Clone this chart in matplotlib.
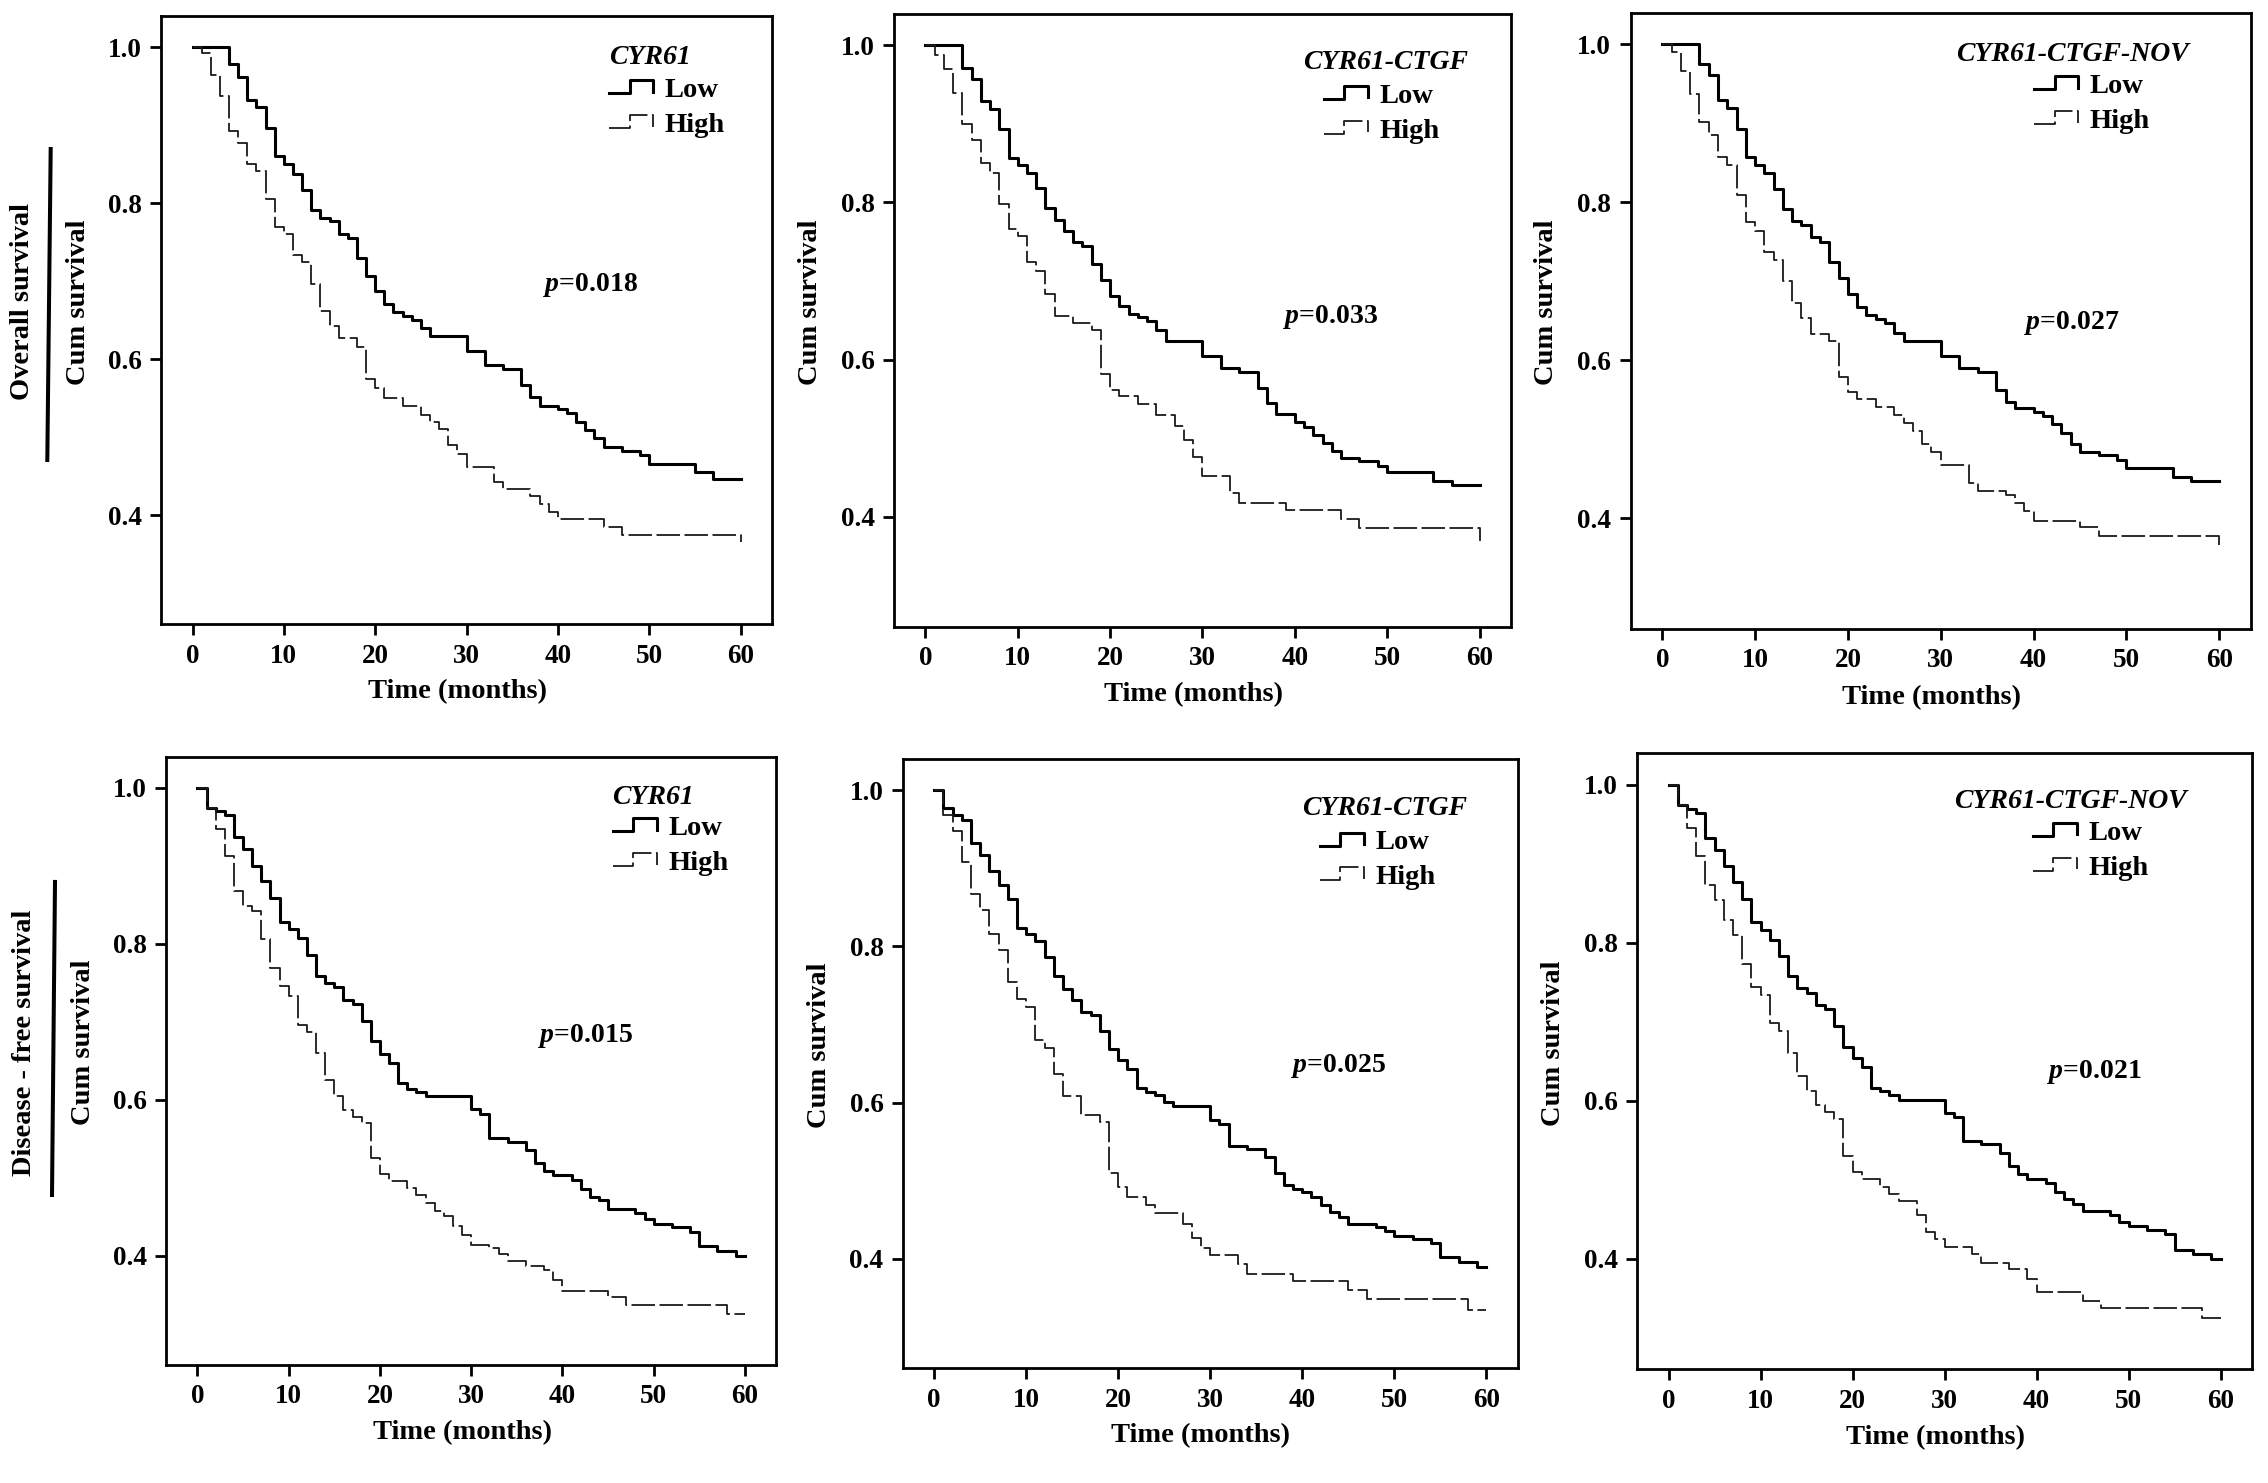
import matplotlib
matplotlib.use('Agg')
import matplotlib.pyplot as plt
from matplotlib.lines import Line2D
from matplotlib.legend_handler import HandlerBase

# ---- data (months, cum survival) ----
# overall survival, CYR61
os1_low_t = [0, 4, 5, 6, 7, 8, 9, 10, 11, 12, 13, 14, 15, 16, 17, 18, 19, 20, 21, 22, 23, 24, 25, 26,
             30, 32, 34, 36, 37, 38, 40, 41, 42, 43, 44, 45, 47, 49, 50, 55, 57, 60]
os1_low_s = [1.0, 0.979, 0.962, 0.932, 0.923, 0.896, 0.860, 0.850, 0.838, 0.817, 0.791, 0.781, 0.777,
             0.761, 0.756, 0.730, 0.707, 0.688, 0.671, 0.660, 0.656, 0.650, 0.640, 0.630, 0.610, 0.593,
             0.588, 0.567, 0.551, 0.540, 0.536, 0.531, 0.520, 0.509, 0.499, 0.488, 0.482, 0.477, 0.466,
             0.455, 0.447, 0.447]
os1_high_t = [0, 1, 2, 3, 4, 5, 6, 7, 8, 9, 10, 11, 12, 13, 14, 15, 16, 18, 19, 20, 21, 23, 25, 26, 27,
              28, 29, 30, 33, 34, 37, 38, 39, 40, 45, 47, 60]
os1_high_s = [1.0, 0.992, 0.964, 0.938, 0.893, 0.877, 0.850, 0.841, 0.806, 0.770, 0.761, 0.733, 0.724,
              0.697, 0.662, 0.643, 0.627, 0.616, 0.575, 0.563, 0.550, 0.540, 0.528, 0.519, 0.510, 0.490,
              0.478, 0.462, 0.443, 0.433, 0.424, 0.414, 0.404, 0.395, 0.385, 0.375, 0.365]

# overall survival, CYR61-CTGF
os2_low_t = [0, 4, 5, 6, 7, 8, 9, 10, 11, 12, 13, 14, 15, 16, 17, 18, 19, 20, 21, 22, 23, 24, 25, 26,
             30, 32, 34, 36, 37, 38, 40, 41, 42, 43, 44, 45, 47, 49, 50, 55, 57, 60]
os2_low_s = [1.0, 0.971, 0.957, 0.929, 0.919, 0.894, 0.856, 0.847, 0.837, 0.818, 0.793, 0.778, 0.764,
             0.750, 0.744, 0.721, 0.701, 0.681, 0.668, 0.658, 0.654, 0.649, 0.638, 0.623, 0.604, 0.589,
             0.584, 0.564, 0.545, 0.531, 0.521, 0.514, 0.504, 0.494, 0.483, 0.475, 0.471, 0.465, 0.457,
             0.445, 0.440, 0.440]
os2_high_t = [0, 1, 2, 3, 4, 5, 6, 7, 8, 9, 10, 11, 12, 13, 14, 16, 18, 19, 20, 21, 23, 25, 27, 28, 29,
              30, 33, 34, 39, 45, 47, 60]
os2_high_s = [1.0, 0.988, 0.970, 0.939, 0.900, 0.879, 0.850, 0.838, 0.798, 0.766, 0.757, 0.724, 0.713,
              0.684, 0.655, 0.646, 0.637, 0.582, 0.561, 0.553, 0.543, 0.529, 0.516, 0.497, 0.476, 0.452,
              0.430, 0.418, 0.409, 0.397, 0.386, 0.369]

# overall survival, CYR61-CTGF-NOV
os3_low_t = [0, 4, 5, 6, 7, 8, 9, 10, 11, 12, 13, 14, 15, 16, 17, 18, 19, 20, 21, 22, 23, 24, 25, 26,
             30, 32, 34, 36, 37, 38, 40, 41, 42, 43, 44, 45, 47, 49, 50, 55, 57, 60]
os3_low_s = [1.0, 0.975, 0.961, 0.930, 0.920, 0.893, 0.858, 0.848, 0.837, 0.817, 0.792, 0.776, 0.771,
             0.756, 0.750, 0.724, 0.704, 0.684, 0.668, 0.657, 0.652, 0.647, 0.635, 0.625, 0.606, 0.591,
             0.585, 0.563, 0.547, 0.540, 0.535, 0.529, 0.519, 0.508, 0.494, 0.484, 0.480, 0.474, 0.464,
             0.452, 0.447, 0.447]
os3_high_t = [0, 1, 2, 3, 4, 5, 6, 7, 8, 9, 10, 11, 12, 13, 14, 15, 16, 18, 19, 20, 21, 23, 25, 26, 27,
              28, 29, 30, 33, 34, 37, 38, 39, 40, 45, 47, 60]
os3_high_s = [1.0, 0.990, 0.966, 0.937, 0.902, 0.885, 0.857, 0.847, 0.810, 0.775, 0.764, 0.737, 0.727,
              0.701, 0.673, 0.654, 0.634, 0.625, 0.579, 0.560, 0.551, 0.541, 0.531, 0.521, 0.510, 0.494,
              0.484, 0.467, 0.445, 0.435, 0.429, 0.419, 0.409, 0.397, 0.389, 0.378, 0.366]

# disease-free survival, CYR61
dfs1_low_t = [0, 1, 2, 3, 4, 5, 6, 7, 8, 9, 10, 11, 12, 13, 14, 15, 16, 17, 18, 19, 20, 21, 22, 23, 24,
              25, 30, 31, 32, 34, 36, 37, 38, 39, 41, 42, 43, 44, 45, 48, 49, 50, 52, 54, 55, 57, 59, 60]
dfs1_low_s = [1.0, 0.974, 0.970, 0.965, 0.937, 0.922, 0.900, 0.880, 0.859, 0.828, 0.819, 0.807, 0.786,
              0.759, 0.749, 0.744, 0.728, 0.723, 0.701, 0.675, 0.659, 0.647, 0.621, 0.614, 0.610, 0.605,
              0.588, 0.581, 0.551, 0.546, 0.536, 0.519, 0.508, 0.503, 0.497, 0.485, 0.475, 0.471, 0.460,
              0.454, 0.447, 0.441, 0.437, 0.430, 0.412, 0.406, 0.400, 0.400]
dfs1_high_t = [0, 1, 2, 3, 4, 5, 6, 7, 8, 9, 10, 11, 12, 13, 14, 15, 16, 17, 18, 19, 20, 21, 23, 24, 25,
               26, 27, 28, 29, 30, 32, 33, 34, 36, 38, 39, 40, 45, 47, 58, 60]
dfs1_high_s = [1.0, 0.974, 0.947, 0.912, 0.868, 0.849, 0.842, 0.806, 0.769, 0.746, 0.733, 0.696, 0.687,
               0.660, 0.625, 0.605, 0.587, 0.578, 0.570, 0.525, 0.505, 0.496, 0.487, 0.477, 0.467, 0.457,
               0.451, 0.438, 0.426, 0.414, 0.410, 0.402, 0.393, 0.387, 0.382, 0.369, 0.355, 0.347, 0.337,
               0.325, 0.325]

# disease-free survival, CYR61-CTGF
dfs2_low_t = [0, 1, 2, 3, 4, 5, 6, 7, 8, 9, 10, 11, 12, 13, 14, 15, 16, 17, 18, 19, 20, 21, 22, 23, 24,
              25, 26, 30, 31, 32, 34, 36, 37, 38, 39, 40, 41, 42, 43, 44, 45, 48, 49, 50, 52, 54, 55, 57,
              59, 60]
dfs2_low_s = [1.0, 0.977, 0.968, 0.962, 0.932, 0.917, 0.897, 0.879, 0.861, 0.823, 0.816, 0.807, 0.786,
              0.762, 0.746, 0.731, 0.716, 0.712, 0.692, 0.668, 0.654, 0.643, 0.619, 0.614, 0.610, 0.601,
              0.595, 0.578, 0.573, 0.545, 0.540, 0.530, 0.510, 0.494, 0.489, 0.485, 0.479, 0.469, 0.460,
              0.453, 0.445, 0.441, 0.435, 0.429, 0.425, 0.420, 0.402, 0.396, 0.390, 0.390]
dfs2_high_t = [0, 1, 2, 3, 4, 5, 6, 7, 8, 9, 10, 11, 12, 13, 14, 16, 18, 19, 20, 21, 23, 24, 27, 28, 29,
               30, 33, 34, 39, 45, 47, 58, 60]
dfs2_high_s = [1.0, 0.968, 0.948, 0.908, 0.867, 0.846, 0.816, 0.795, 0.754, 0.733, 0.723, 0.680, 0.670,
               0.637, 0.608, 0.584, 0.575, 0.510, 0.492, 0.479, 0.469, 0.459, 0.444, 0.426, 0.414, 0.405,
               0.393, 0.381, 0.372, 0.360, 0.348, 0.334, 0.334]

# disease-free survival, CYR61-CTGF-NOV
dfs3_low_t = [0, 1, 2, 3, 4, 5, 6, 7, 8, 9, 10, 11, 12, 13, 14, 15, 16, 17, 18, 19, 20, 21, 22, 23, 24,
              25, 30, 31, 32, 34, 36, 37, 38, 39, 41, 42, 43, 44, 45, 48, 49, 50, 52, 54, 55, 57, 59, 60]
dfs3_low_s = [1.0, 0.974, 0.970, 0.964, 0.933, 0.918, 0.897, 0.877, 0.856, 0.826, 0.816, 0.804, 0.783,
              0.758, 0.743, 0.737, 0.721, 0.716, 0.695, 0.668, 0.654, 0.643, 0.616, 0.612, 0.608, 0.601,
              0.585, 0.579, 0.549, 0.545, 0.534, 0.518, 0.507, 0.501, 0.496, 0.485, 0.476, 0.470, 0.460,
              0.455, 0.447, 0.442, 0.437, 0.431, 0.411, 0.406, 0.400, 0.400]
dfs3_high_t = [0, 1, 2, 3, 4, 5, 6, 7, 8, 9, 10, 11, 12, 13, 14, 15, 16, 17, 18, 19, 20, 21, 23, 24, 25,
               27, 28, 29, 30, 33, 34, 37, 39, 40, 45, 47, 58, 60]
dfs3_high_s = [1.0, 0.974, 0.946, 0.910, 0.873, 0.854, 0.829, 0.810, 0.773, 0.744, 0.734, 0.698, 0.688,
               0.661, 0.632, 0.613, 0.595, 0.586, 0.577, 0.530, 0.510, 0.501, 0.491, 0.482, 0.473, 0.455,
               0.434, 0.425, 0.415, 0.406, 0.395, 0.387, 0.374, 0.358, 0.347, 0.338, 0.325, 0.325]

gene_labels = ['CYR61', 'CYR61-CTGF', 'CYR61-CTGF-NOV'] * 2
p_labels = ['0.018', '0.033', '0.027', '0.015', '0.025', '0.021']
group_labels = ['Low', 'High']
row_labels = ['Overall survival', 'Disease - free survival']
xticks = [0, 10, 20, 30, 40, 50, 60]
yticks = [0.4, 0.6, 0.8, 1.0]

curves = [(os1_low_t, os1_low_s, os1_high_t, os1_high_s),
          (os2_low_t, os2_low_s, os2_high_t, os2_high_s),
          (os3_low_t, os3_low_s, os3_high_t, os3_high_s),
          (dfs1_low_t, dfs1_low_s, dfs1_high_t, dfs1_high_s),
          (dfs2_low_t, dfs2_low_s, dfs2_high_t, dfs2_high_s),
          (dfs3_low_t, dfs3_low_s, dfs3_high_t, dfs3_high_s)]

# ---- layout (figure fractions / axes fractions) ----
rects = [[0.0712, 0.5790, 0.2690, 0.4102],
         [0.3942, 0.5774, 0.2720, 0.4133],
         [0.7190, 0.5759, 0.2734, 0.4154],
         [0.0734, 0.0798, 0.2687, 0.4100],
         [0.3981, 0.0775, 0.2710, 0.4107],
         [0.7219, 0.0766, 0.2710, 0.4154]]
title_pos = [(0.801, 0.932), (0.797, 0.921), (0.712, 0.932),
             (0.799, 0.932), (0.784, 0.918), (0.705, 0.922)]
legend_pos = [(0.734, 0.849), (0.697, 0.837), (0.651, 0.852),
              (0.732, 0.853), (0.678, 0.834), (0.644, 0.842)]
p_pos = [(0.703, 0.558), (0.708, 0.506), (0.712, 0.496),
         (0.688, 0.541), (0.708, 0.496), (0.744, 0.483)]

plt.rcParams['font.family'] = ['Liberation Serif', 'DejaVu Serif']
plt.rcParams['font.weight'] = 'bold'
plt.rcParams['mathtext.fontset'] = 'custom'
plt.rcParams['mathtext.it'] = 'Liberation Serif:italic:bold'
plt.rcParams['mathtext.rm'] = 'Liberation Serif:bold'

LOW_STYLE = dict(color='black', lw=2.2, linestyle='-')
HIGH_STYLE = dict(color='#1a1a1a', lw=1.3, linestyle=(0, (13, 2.5)))


class StepHandler(HandlerBase):
    # SPSS-like legend glyph: a small step
    def create_artists(self, legend, orig_handle, xdescent, ydescent, width, height, fontsize, trans):
        fx = [0, 0.46, 0.46, 1.0, 1.0]
        fy = [0.1, 0.1, 0.9, 0.9, 0.2]
        xs = [-xdescent + width * f for f in fx]
        ys = [-ydescent + height * f for f in fy]
        ln = Line2D(xs, ys)
        ln.update_from(orig_handle)
        ln.set_data(xs, ys)
        ln.set_transform(trans)
        return [ln]


fig = plt.figure(figsize=(22.68, 14.83), dpi=100)

for i in range(6):
    ax = fig.add_axes(rects[i])
    lt, ls, ht, hs = curves[i]
    l1, = ax.step(lt, ls, where='post', **LOW_STYLE)
    l2, = ax.step(ht, hs, where='post', **HIGH_STYLE)

    ax.set_xlim(-3.4, 63.4)
    ax.set_ylim(0.26, 1.04)
    ax.set_xticks(xticks)
    ax.set_yticks(yticks)
    ax.set_yticklabels(['%.1f' % v for v in yticks])
    ax.tick_params(direction='out', length=8, width=2, labelsize=19.5, pad=6)
    for sp in ax.spines.values():
        sp.set_linewidth(2)

    ax.set_ylabel('Cum survival', fontsize=20.5, fontweight='bold')
    ax.yaxis.set_label_coords(-0.136, 0.53)
    ax.yaxis.label.set_verticalalignment('center')
    ax.set_xlabel('Time (months)', fontsize=20.5, fontweight='bold')
    ax.xaxis.set_label_coords(0.485, -0.111)
    ax.xaxis.label.set_verticalalignment('center')

    ax.text(title_pos[i][0], title_pos[i][1], gene_labels[i], transform=ax.transAxes,
            ha='center', va='center', fontsize=20, fontstyle='italic', fontweight='bold')
    ax.legend([l1, l2], group_labels, handler_map={Line2D: StepHandler()},
              loc='center left', bbox_to_anchor=legend_pos[i], frameon=False,
              handlelength=1.55, handleheight=0.5, handletextpad=0.4,
              labelspacing=0.35, borderpad=0, borderaxespad=0,
              prop={'family': 'Liberation Serif', 'weight': 'bold', 'size': 20.5})

    ax.text(p_pos[i][0], p_pos[i][1], '$p$=' + p_labels[i], transform=ax.transAxes,
            ha='center', va='center', fontsize=20, fontweight='bold')

# row captions with the bar next to them
fig.text(0.0101, 0.7964, row_labels[0], rotation=90, ha='center', va='center',
         fontsize=20.5, fontweight='bold')
fig.text(0.0110, 0.2967, row_labels[1], rotation=90, ha='center', va='center',
         fontsize=20.5, fontweight='bold')
fig.add_artist(Line2D([0.02235, 0.02086], [0.8995, 0.6898], transform=fig.transFigure,
                      color='black', lw=2.9))
fig.add_artist(Line2D([0.02425, 0.02293], [0.4053, 0.1942], transform=fig.transFigure,
                      color='black', lw=2.9))

fig.savefig('out.png', dpi=100)
